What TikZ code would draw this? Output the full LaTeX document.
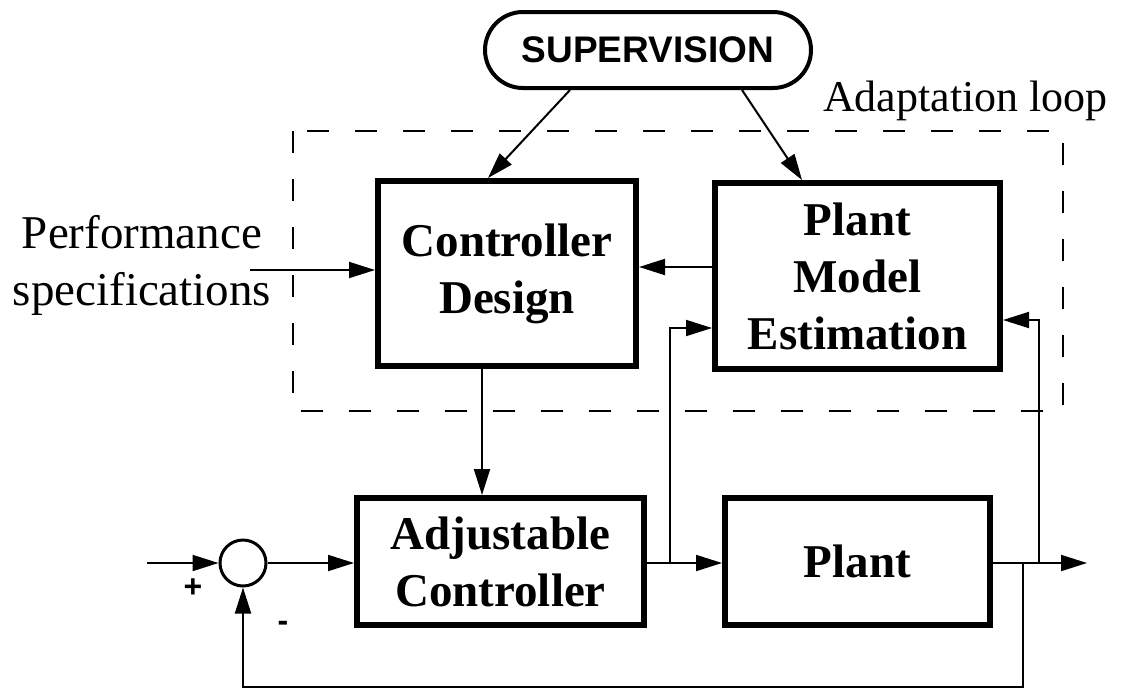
\documentclass[tikz,border=0pt]{standalone}
\usepackage{fontspec}
\setmainfont{Liberation Serif}
\setsansfont{Liberation Sans}
\usetikzlibrary{arrows.meta,shapes.misc}
\begin{document}
\begin{tikzpicture}[x=1pt,y=-1pt,
  blk/.style={draw,line width=6pt,minimum width=#1,inner sep=0pt,align=center,
    font=\fontsize{47}{57}\selectfont\bfseries},
  conn/.style={line width=2pt},
  arr/.style={conn,-{Triangle[length=26pt,width=16pt]}},
  lbl/.style={font=\fontsize{44}{50}\selectfont,inner sep=0pt}
]
\useasboundingbox (0,0) rectangle (1145,689);
% adaptation loop
\draw[line width=2.5pt,dash pattern=on 22pt off 26pt] (293,131) rectangle (1063,411);
\node[lbl,anchor=base west] (adl) at (823,111) {Adaptation loop};
% supervision
\node[draw,line width=4pt,rounded rectangle,minimum width=326pt,minimum height=76pt,
  inner sep=0pt,font=\fontsize{37}{40}\selectfont\sffamily\bfseries] (sup) at (648,50) {SUPERVISION};
% blocks
\node[blk=258pt,minimum height=185pt] (ctrl) at (507,273.5) {Controller\\Design};
\node[blk=285pt,minimum height=186pt] (est) at (857.5,276) {Plant\\Model\\Estimation};
\node[blk=287pt,minimum height=127pt] (adj) at (500.5,561.5) {Adjustable\\Controller};
\node[blk=265pt,minimum height=127pt] (plant) at (857.5,561.5) {Plant};
\node[draw,circle,line width=3pt,minimum size=46pt,inner sep=0pt] (sum) at (243,563) {};
% performance
\node[lbl,align=center,font=\fontsize{47}{57}\selectfont] (perf) at (142,265.5) {Performance\\specifications};
% coordinates
\coordinate (in) at (147,563);
\coordinate (j1) at (670,563);
\coordinate (j2) at (1039,563);
\coordinate (j3) at (1023,563);
\coordinate (out) at (1087,563);
\coordinate (fb) at (1023,687);
\coordinate (ps) at (250,270);
\coordinate (s1) at (570,90);
\coordinate (s2) at (742,90);
% connectors
\draw[arr] (in) -- (sum.west);
\draw[arr] (sum.east) -- (adj.west |- sum.east);
\draw[arr] (adj.east |- j1) -- (plant.west |- j1);
\draw[arr] (j1) |- (est.west |- 0,328);
\draw[arr] (plant.east |- out) -- (out);
\draw[arr] (j2) |- (est.east |- 0,320);
\draw[arr] (j3) -- (fb) -| (sum.south);
\draw[arr] (est.west |- 0,267) -- (ctrl.east |- 0,267);
\draw[arr] (ps) -- (ctrl.west |- ps);
\draw[arr] (ctrl.south -| 482,0) -- (adj.north -| 482,0);
\draw[arr] (s1) -- (488,178) coordinate (t1);
\draw[arr] (s2) -- (802,180) coordinate (t2);
% signs
\node[font=\fontsize{32}{32}\selectfont\sffamily\bfseries] (plus) at (193,588) {+};
\node[font=\fontsize{32}{32}\selectfont\sffamily\bfseries] (minus) at (283,626) {-};
\end{tikzpicture}
\end{document}
